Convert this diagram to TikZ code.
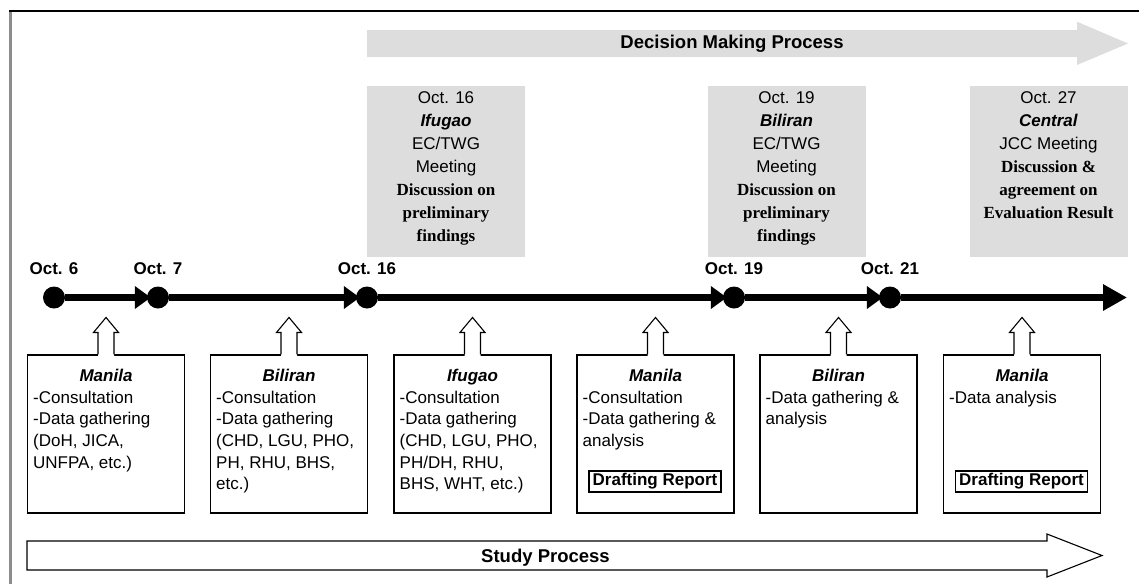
\documentclass[tikz,border=0pt]{standalone}
\usepackage{fontspec}
\setmainfont{Liberation Sans}
\newfontfamily\tnr{Liberation Serif}
\usetikzlibrary{arrows.meta,calc}
\definecolor{boxgray}{HTML}{DDDDDD}
\definecolor{framegray}{HTML}{8C8C8C}
\begin{document}
\begin{tikzpicture}[x=1pt,y=-1pt,
 gtxt/.style={font=\fontsize{17}{23}\selectfont, inner sep=0pt, align=center, anchor=north},
 stitle/.style={font=\fontsize{17}{21.7}\selectfont\bfseries\itshape, inner sep=0pt, anchor=base},
 body/.style={font=\fontsize{17}{21.7}\selectfont, inner sep=0pt, anchor=north west, align=left},
 datelbl/.style={font=\fontsize{17}{20}\selectfont\bfseries, inner sep=0pt, anchor=base},
 biglbl/.style={font=\fontsize{18.5}{22}\selectfont\bfseries, inner sep=0pt, anchor=base},
 graybox/.style={fill=boxgray, minimum width=158pt, minimum height=171pt, inner sep=0pt},
 stagebox/.style={draw, line width=1.1pt, minimum width=157pt, minimum height=158pt, inner sep=0pt},
 draftbox/.style={draw, line width=1.1pt, font=\fontsize{17}{20}\selectfont\bfseries, minimum width=132pt, minimum height=21pt, inner sep=0pt},
 dot/.style={circle, fill=black, minimum size=22pt, inner sep=0pt},
 tline/.style={line width=6.4pt, -{Triangle[length=16pt,width=22pt]}, shorten >=-4pt},
 hollow/.style={line width=1.1pt, line join=miter}
]
\useasboundingbox (0,0) rectangle (1139,584);
% frame
\draw[framegray, line width=3pt] (10.5,10) -- (10.5,584);
\draw[black, line width=1.5pt] (9,11) -- (1139,11);

% decision making arrow
\fill[boxgray] (367,30) -- (1077,30) -- (1077,21.7) -- (1128,43.5) -- (1077,65) -- (1077,57) -- (367,57) -- cycle;
\node[biglbl] (dmp) at (732,48.5) {Decision Making Process};

% gray meeting boxes
\node[graybox] (g1) at (446,171.5) {};
\node[graybox] (g2) at (786.5,171.5) {};
\node[graybox] (g3) at (1048.5,171.5) {};
\node[gtxt] (g1t) at (446,91.6) {Oct. 16\\\textbf{\textit{Ifugao}}\\EC/TWG\\Meeting\\{\tnr\bfseries Discussion on}\\{\tnr\bfseries preliminary}\\{\tnr\bfseries findings}};
\node[gtxt] (g2t) at (786.5,91.6) {Oct. 19\\\textbf{\textit{Biliran}}\\EC/TWG\\Meeting\\{\tnr\bfseries Discussion on}\\{\tnr\bfseries preliminary}\\{\tnr\bfseries findings}};
\node[gtxt] (g3t) at (1048.5,91.6) {Oct. 27\\\textbf{\textit{Central}}\\JCC Meeting\\{\tnr\bfseries Discussion \&}\\{\tnr\bfseries agreement on}\\{\tnr\bfseries Evaluation Result}};

% date labels
\node[datelbl] (d1) at (54,274) {Oct. 6};
\node[datelbl] (d2) at (158,274) {Oct. 7};
\node[datelbl] (d3) at (367,274) {Oct. 16};
\node[datelbl] (d4) at (734,274) {Oct. 19};
\node[datelbl] (d5) at (890,274) {Oct. 21};

% timeline
\node[dot] (c1) at (54,297.5) {};
\node[dot] (c2) at (158,297.5) {};
\node[dot] (c3) at (367,297.5) {};
\node[dot] (c4) at (734,297.5) {};
\node[dot] (c5) at (890,297.5) {};
\coordinate (tend) at (1127,297.5);
\draw[tline] (c1) -- (c2);
\draw[tline] (c2) -- (c3);
\draw[tline] (c3) -- (c4);
\draw[tline] (c4) -- (c5);
\draw[line width=6.4pt, -{Triangle[length=24pt,width=25pt]}] (c5) -- (tend);

% stage boxes
\node[stagebox] (b1) at (106,434) {};
\node[stagebox] (b2) at (289,434) {};
\node[stagebox] (b3) at (472.5,434) {};
\node[stagebox] (b4) at (655.5,434) {};
\node[stagebox] (b5) at (838.5,434) {};
\node[stagebox] (b6) at (1022,434) {};

\node[stitle] (t1) at (106,381) {Manila};
\node[stitle] (t2) at (289,381) {Biliran};
\node[stitle] (t3) at (472.5,381) {Ifugao};
\node[stitle] (t4) at (655.5,381) {Manila};
\node[stitle] (t5) at (838.5,381) {Biliran};
\node[stitle] (t6) at (1022,381) {Manila};

\node[body] (x1) at (33,390.6) {-Consultation\\-Data gathering\\(DoH, JICA,\\UNFPA, etc.)};
\node[body] (x2) at (216,390.6) {-Consultation\\-Data gathering\\(CHD, LGU, PHO,\\PH, RHU, BHS,\\etc.)};
\node[body] (x3) at (399.5,390.6) {-Consultation\\-Data gathering\\(CHD, LGU, PHO,\\PH/DH, RHU,\\BHS, WHT, etc.)};
\node[body] (x4) at (582.5,390.6) {-Consultation\\-Data gathering \&\\analysis};
\node[body] (x5) at (765.5,390.6) {-Data gathering \&\\analysis};
\node[body] (x6) at (949,390.6) {-Data analysis};

\node[draftbox] (r1) at (655,481.5) {Drafting Report};
\node[draftbox] (r2) at (1021.5,481.5) {Drafting Report};

% hollow up arrows from boxes to timeline
\foreach \b in {b1,b2,b3,b4,b5,b6}{
  \fill[white] ($(\b.north)+(-8,1.5)$) -- ++(0,-23.5) -- ++(-4.5,0) -- ++(12.5,-15) -- ++(12.5,15) -- ++(-4.5,0) -- ++(0,23.5) -- cycle;
  \draw[hollow] ($(\b.north)+(-8,0)$) -- ++(0,-22) -- ++(-4.5,0) -- ++(12.5,-15) -- ++(12.5,15) -- ++(-4.5,0) -- ++(0,22);
}

% study process arrow
\draw[line width=1.1pt, fill=white] (27,541) -- (1047,541) -- (1047,534) -- (1102,555.5) -- (1047,577) -- (1047,570) -- (27,570) -- cycle;
\node[biglbl] (spr) at (545.5,562.5) {Study Process};
\end{tikzpicture}
\end{document}
